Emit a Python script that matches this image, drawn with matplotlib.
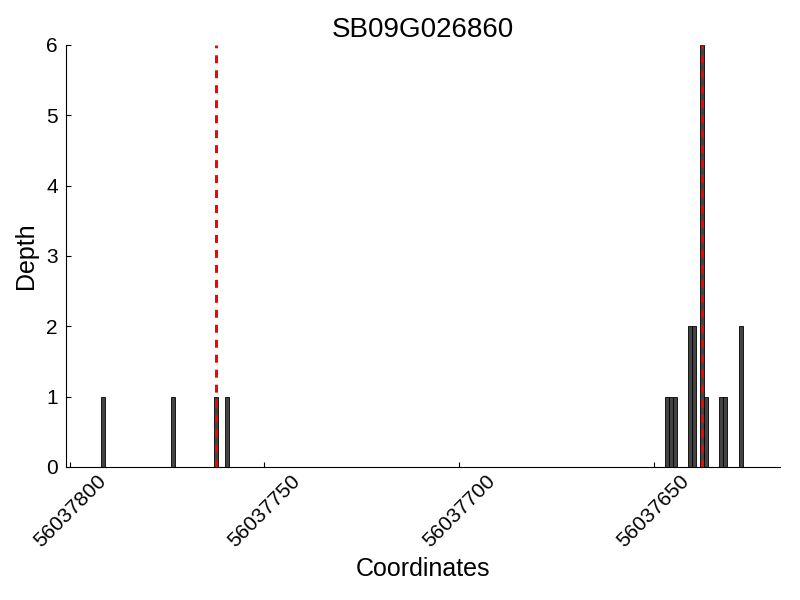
import matplotlib
matplotlib.use('Agg')
import matplotlib.pyplot as plt

plt.rcParams['font.family'] = ['Liberation Sans', 'DejaVu Sans']

# dane pokrycia (pozycja, głębokość)
gene_name = "SB09G026860"
positions = [56037791, 56037773, 56037762, 56037759,
             56037646, 56037645, 56037644, 56037640, 56037639,
             56037637, 56037636, 56037632, 56037631, 56037627]
depths = [1, 1, 1, 1,
          1, 1, 1, 2, 2,
          6, 1, 1, 1, 2]
marker_positions = [56037762.5, 56037637.5]
x_ticks = [56037800, 56037750, 56037700, 56037650]

fig = plt.figure(figsize=(8, 6), dpi=100)
ax = fig.add_axes([0.0825, 0.222, 0.8925, 0.703])

ax.bar(positions, depths, width=1.05, align='edge', color='#444444',
       edgecolor='black', linewidth=0.6, zorder=2)
for m in marker_positions:
    ax.axvline(m, color='red', linestyle='--', linewidth=2.2, dashes=(2.6, 2.3), zorder=3)

ax.set_xlim(56037801, 56037617.5)
ax.set_ylim(0, 6)
ax.set_xticks(x_ticks)
ax.set_xticklabels([str(t) for t in x_ticks], rotation=45, ha='center', fontsize=15)
ax.tick_params(axis='both', direction='in', labelsize=15, top=False, right=False)
ax.tick_params(axis='y', pad=6)
ax.spines['top'].set_visible(False)
ax.spines['right'].set_visible(False)

ax.set_title(gene_name, fontsize=20)
ax.set_xlabel("Coordinates", fontsize=18)
ax.set_ylabel("Depth", fontsize=18, labelpad=6)

fig.savefig("out.png", dpi=100)
plt.close(fig)
